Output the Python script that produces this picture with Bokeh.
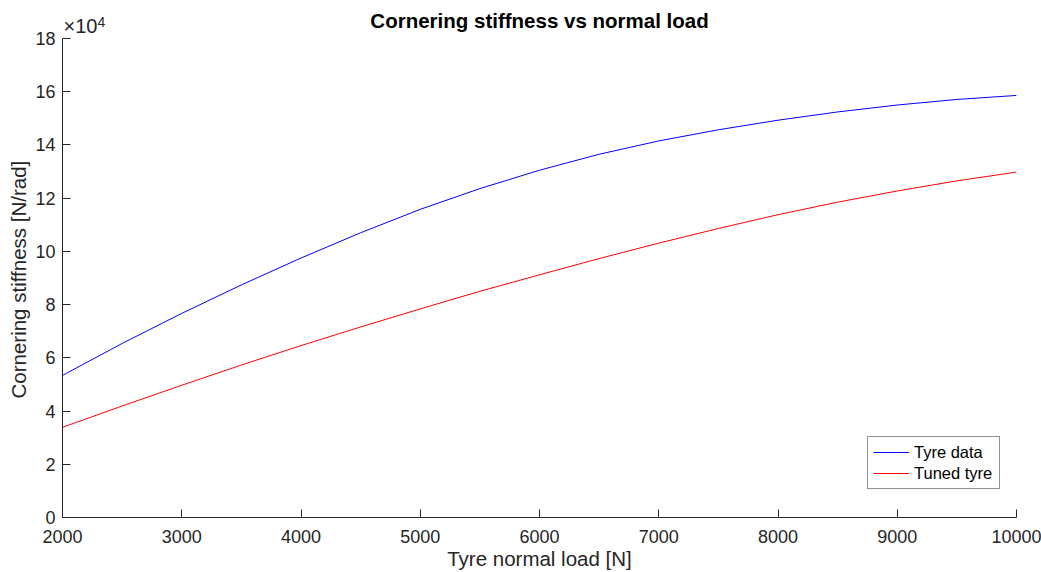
from bokeh.plotting import figure
from bokeh.models import FixedTicker, Label, Range1d, Legend, LegendItem, Title
from bokeh.embed import file_html
from bokeh.resources import INLINE

# Tyre normal load [N]
normal_load = [2000, 2500, 3000, 3500, 4000, 4500, 5000, 5500, 6000,
               6500, 7000, 7500, 8000, 8500, 9000, 9500, 10000]
# Cornering stiffness [N/rad]
tyre_data = [53400, 65400, 76700, 87400, 97500, 107000, 115800, 123600, 130500,
             136500, 141500, 145700, 149300, 152400, 155000, 157100, 158600]
tuned_tyre = [33900, 41900, 49700, 57300, 64600, 71600, 78400, 85000, 91200,
              97300, 103100, 108600, 113800, 118500, 122700, 126500, 129800]

y_ticks = list(range(0, 180001, 20000))
x_ticks = list(range(2000, 10001, 1000))
y_top = 180000

FONT = "Liberation Sans"
INK = "#262626"

# Frame spans the full canvas height above the x axis; the y axis itself is
# bounded at 18e4, leaving room on top for the title and exponent marker.
p = figure(width=1041, height=572, output_backend="svg", toolbar_location=None,
           x_range=Range1d(2000, 10000), y_range=Range1d(0, y_top * 517 / 479),
           min_border_left=62, min_border_right=25, min_border_top=0,
           min_border_bottom=55)
p.outline_line_color = None
p.grid.visible = False
p.background_fill_color = "white"
p.border_fill_color = "white"

r1 = p.line(normal_load, tyre_data, line_color="#0000ff", line_width=1)
r2 = p.line(normal_load, tuned_tyre, line_color="#ff0000", line_width=1)

for ax in (p.xaxis[0], p.yaxis[0]):
    ax.axis_line_color = INK
    ax.major_tick_line_color = INK
    ax.major_tick_in = 8
    ax.major_tick_out = 0
    ax.minor_tick_line_color = None
    ax.major_label_text_font = FONT
    ax.major_label_text_font_size = "18px"
    ax.major_label_text_color = INK
    ax.axis_label_text_font = FONT
    ax.axis_label_text_font_style = "normal"
    ax.axis_label_text_font_size = "20.5px"
    ax.axis_label_text_color = INK

p.yaxis.bounds = (0, y_top)
p.xaxis.ticker = FixedTicker(ticks=x_ticks)
p.yaxis.ticker = FixedTicker(ticks=y_ticks)
p.yaxis.major_label_overrides = {t: str(t // 10000) for t in y_ticks}
p.xaxis.major_label_standoff = 12
p.yaxis.major_label_standoff = 7
p.xaxis.axis_label = "Tyre normal load [N]"
p.xaxis.axis_label_standoff = 1

# y-axis label, started from the bottom of the frame so it centres on the
# bounded axis
p.add_layout(Title(text="Cornering stiffness [N/rad]", align="left", offset=119,
                   standoff=6, text_font=FONT, text_font_size="20.5px",
                   text_font_style="normal", text_color=INK), "left")

# Title and exponent marker
p.add_layout(Label(x=6000, y=y_top, y_offset=18, text="Cornering stiffness vs normal load",
                   text_font=FONT, text_font_size="20.5px", text_font_style="bold",
                   text_color="black", text_align="center", text_baseline="middle"))
p.add_layout(Label(x=2000, y=y_top, x_offset=1, y_offset=2, text="×10",
                   text_font=FONT, text_font_size="20px", text_color=INK,
                   text_align="left", text_baseline="bottom"))
p.add_layout(Label(x=2000, y=y_top, x_offset=35, y_offset=12, text="4",
                   text_font=FONT, text_font_size="14px", text_color=INK,
                   text_align="left", text_baseline="bottom"))

legend = Legend(items=[LegendItem(label="Tyre data", renderers=[r1]),
                       LegendItem(label="Tuned tyre", renderers=[r2])],
                location=(805, 28))
legend.label_text_font = FONT
legend.label_text_font_size = "16.5px"
legend.label_text_color = "black"
legend.glyph_width = 36
legend.glyph_height = 20
legend.label_height = 20
legend.label_width = 80
legend.label_standoff = 5
legend.spacing = 1
legend.padding = 5
legend.margin = 0
legend.border_line_color = INK
legend.border_line_width = 1
legend.background_fill_alpha = 1
p.add_layout(legend)

open("out.html", "w").write(file_html(p, INLINE))
